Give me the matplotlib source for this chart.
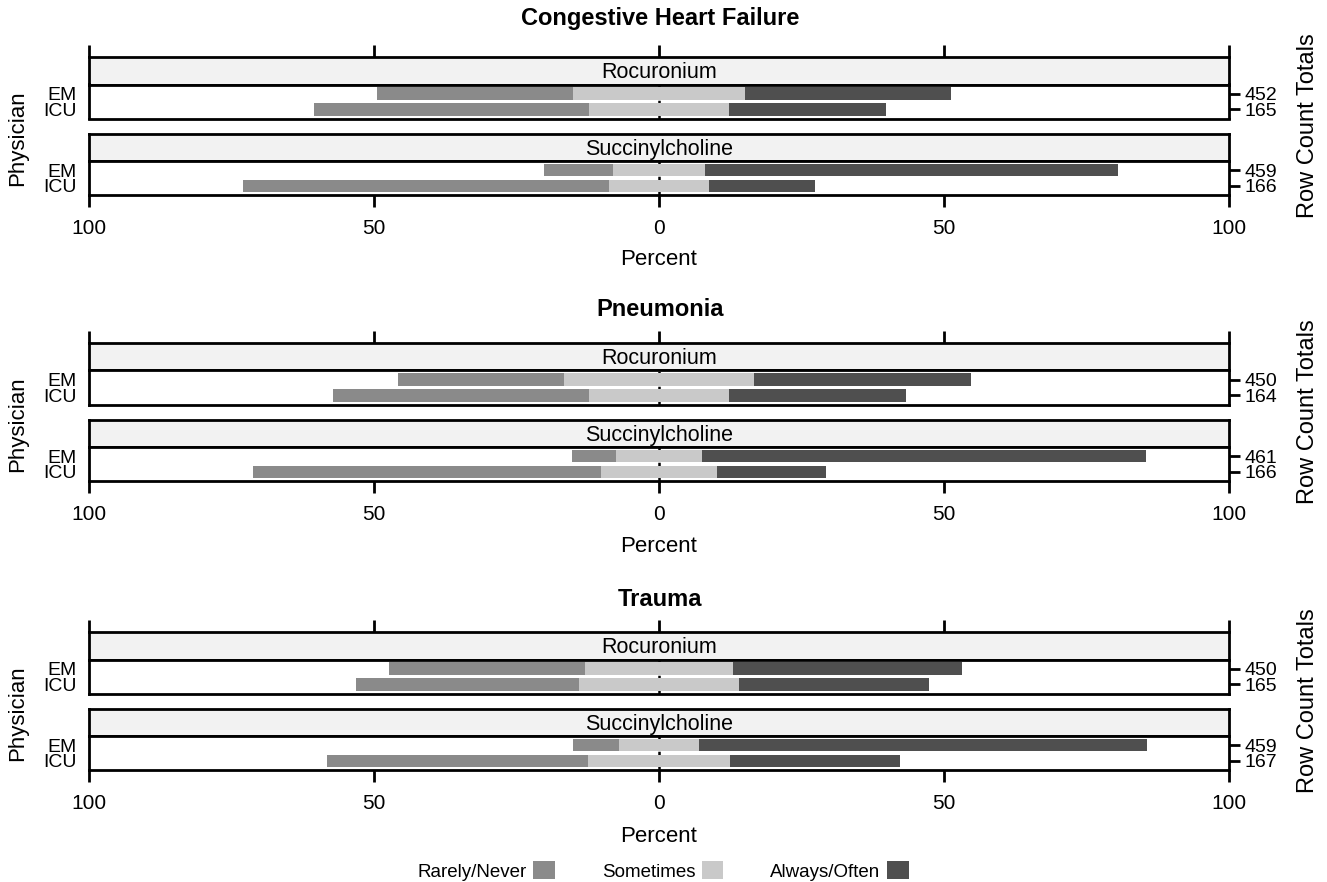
import matplotlib
matplotlib.use("Agg")
import matplotlib.pyplot as plt
from matplotlib.patches import Patch
import numpy as np

plt.rcParams["font.family"] = ["Liberation Sans", "DejaVu Sans"]

conditions = ["Congestive Heart Failure", "Pneumonia", "Trauma"]
drugs = ["Rocuronium", "Succinylcholine"]
physicians = ["EM", "ICU"]
levels = ["Rarely/Never", "Sometimes", "Always/Often"]
colors = ["#8a8a8a", "#c9c9c9", "#4f4f4f"]

# percent of respondents, indexed [condition][drug][physician]
rarely = [[[34.3, 48.3], [12.2, 64.2]],
          [[29.2, 44.8], [7.8, 61.2]],
          [[34.4, 39.1], [8.1, 45.9]]]
sometimes = [[[30.3, 24.4], [16.1, 17.7]],
             [[33.3, 24.7], [15.0, 20.2]],
             [[25.8, 28.1], [13.9, 24.8]]]
always = [[[36.0, 27.7], [72.4, 18.6]],
          [[38.0, 30.9], [77.9, 19.2]],
          [[40.3, 33.3], [78.6, 29.8]]]
totals = [[[452, 165], [459, 166]],
          [[450, 164], [461, 166]],
          [[450, 165], [459, 167]]]

W, H = 1327, 882
X0, X1 = 89, 1229
section_tops = [57, 343, 632]
title_y = [18, 310, 600]
percent_y = [259, 547, 836]
STRIP_H, BODY_H, GAP = 27.5, 34, 15


def box(x0, y0, x1, y1):
    return [x0 / W, 1 - y1 / H, (x1 - x0) / W, (y1 - y0) / H]


fig = plt.figure(figsize=(W / 100, H / 100), dpi=100)

for i, cond in enumerate(conditions):
    top = section_tops[i]
    for j, drug in enumerate(drugs):
        s_top = top + j * (STRIP_H + BODY_H + GAP)
        b_top = s_top + STRIP_H
        b_bot = b_top + BODY_H

        strip = fig.add_axes(box(X0, s_top, X1, b_top))
        strip.set_facecolor("#f2f2f2")
        strip.set_xlim(-100, 100)
        strip.set_yticks([])
        strip.text(0.5, 0.42, drug, transform=strip.transAxes, ha="center",
                   va="center", fontsize=15.5)
        for sp in strip.spines.values():
            sp.set_linewidth(2)
        if j == 0:
            strip.xaxis.set_ticks_position("top")
            strip.set_xticks([-100, -50, 0, 50, 100])
            strip.set_xticklabels([])
            strip.tick_params(axis="x", direction="out", length=8.5, width=2)
        else:
            strip.set_xticks([])

        ax = fig.add_axes(box(X0, b_top, X1, b_bot))
        ax.axvline(0, color="black", lw=1.8, ls=(0, (1.5, 4.5)), zorder=1)
        ys = [2, 1]
        r = np.array(rarely[i][j])
        s = np.array(sometimes[i][j])
        a = np.array(always[i][j])
        ax.barh(ys, r, left=-s / 2 - r, height=0.8, color=colors[0], zorder=2)
        ax.barh(ys, s, left=-s / 2, height=0.8, color=colors[1], zorder=2)
        ax.barh(ys, a, left=s / 2, height=0.8, color=colors[2], zorder=2)
        ax.set_xlim(-100, 100)
        ax.set_ylim(0.42, 2.58)
        ax.set_yticks(ys)
        ax.set_yticklabels(physicians, fontsize=14)
        ax.tick_params(axis="y", length=0, pad=9)
        for sp in ax.spines.values():
            sp.set_linewidth(2)

        ax2 = ax.twinx()
        ax2.set_ylim(0.42, 2.58)
        ax2.set_yticks(ys)
        ax2.set_yticklabels([str(t) for t in totals[i][j]], fontsize=14)
        ax2.tick_params(axis="y", length=8, width=2, pad=3)
        for sp in ax2.spines.values():
            sp.set_visible(False)

        if j == 1:
            ax.set_xticks([-100, -50, 0, 50, 100])
            ax.set_xticklabels(["100", "50", "0", "50", "100"], fontsize=15)
            ax.tick_params(axis="x", direction="out", length=8.5, width=2, pad=9)
        else:
            ax.set_xticks([])

    sec_bot = top + 2 * (STRIP_H + BODY_H) + GAP
    fig.text(660 / W, 1 - title_y[i] / H, cond, ha="center", va="center",
             fontsize=17, fontweight="bold")
    fig.text(659 / W, 1 - percent_y[i] / H, "Percent", ha="center",
             va="center", fontsize=16)
    mid = (top + sec_bot) / 2
    fig.text(18 / W, 1 - (mid + 12) / H, "Physician", rotation=90, ha="center",
             va="center", fontsize=16)
    fig.text(1308 / W, 1 - mid / H, "Row Count Totals", rotation=90,
             ha="center", va="center", fontsize=17)

handles = [Patch(facecolor=c, edgecolor="none") for c in colors]
fig.legend(handles, levels, loc="center", bbox_to_anchor=(663 / W, 1 - 871 / H),
           ncol=3, frameon=False, markerfirst=False, fontsize=13.5,
           handlelength=1.15, handleheight=1.1, handletextpad=0.35,
           columnspacing=2.5)

fig.savefig("out.png", dpi=100)
